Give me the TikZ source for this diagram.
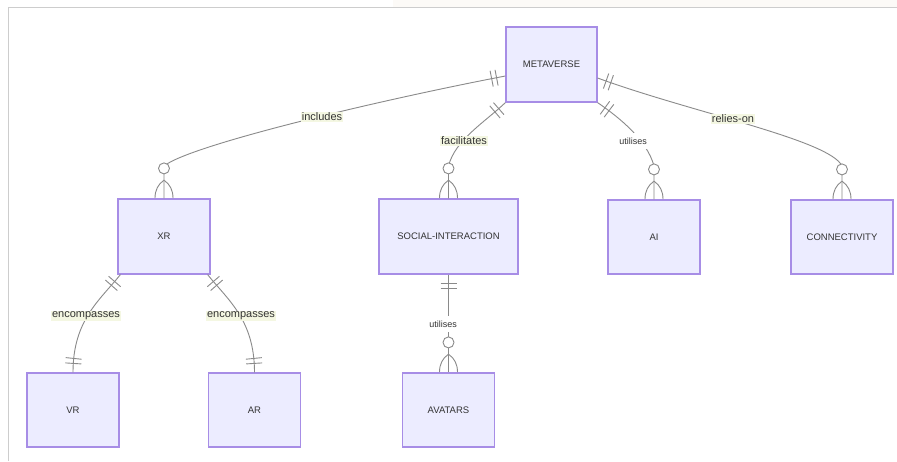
\documentclass[tikz,border=0pt]{standalone}
\usepackage{fontspec}
\setmainfont{Liberation Sans}
\usetikzlibrary{decorations.markings,calc}
\definecolor{boxfill}{HTML}{ECECFF}
\definecolor{boxline}{HTML}{A78DE6}
\definecolor{lnk}{HTML}{8A8A8A}
\definecolor{lblfill}{HTML}{F4F7E2}
\definecolor{txt}{HTML}{333333}
\definecolor{framec}{HTML}{CDCDCD}
\definecolor{topband}{HTML}{FCFAF7}
\tikzset{
  ent/.style={draw=boxline, fill=boxfill, line width=1.2pt, minimum width=92pt,
    minimum height=75pt, inner sep=0pt, text=txt, font=\fontsize{9.5}{11}\selectfont},
  rel/.style={draw=lnk, line width=0.9pt},
  lbl/.style={fill=lblfill, text=txt, inner sep=1pt, font=\fontsize{11}{13}\selectfont},
  slbl/.style={fill=white, text=txt, inner xsep=1pt, inner ysep=5pt, font=\fontsize{9}{11}\selectfont},
  onestart/.style={postaction={decorate,decoration={markings,
    mark=at position 9pt with {\draw[draw=lnk,line width=0.9pt] (0pt,-8pt) -- (0pt,8pt);},
    mark=at position 14pt with {\draw[draw=lnk,line width=0.9pt] (0pt,-8pt) -- (0pt,8pt);}}}},
  oneend/.style={postaction={decorate,decoration={markings,
    mark=at position -9pt with {\draw[draw=lnk,line width=0.9pt] (0pt,-8pt) -- (0pt,8pt);},
    mark=at position -14pt with {\draw[draw=lnk,line width=0.9pt] (0pt,-8pt) -- (0pt,8pt);}}}},
  manyend/.style={postaction={decorate,decoration={markings,
    mark=at position -30pt with {\draw[draw=lnk,line width=0.9pt,fill=white] (0pt,0pt) circle (5.5pt);},
    mark=at position -0.2pt with {\draw[draw=lnk,line width=0.9pt]
      (0pt,-9pt) .. controls (-8pt,-9pt) and (-14pt,-6pt) .. (-18pt,0pt)
      .. controls (-14pt,6pt) and (-8pt,9pt) .. (0pt,9pt);}}}}
}
\begin{document}
\begin{tikzpicture}[x=1pt,y=1pt]
\useasboundingbox (0,0) rectangle (897,-461);
\fill[white] (0,0) rectangle (897,-461);
\fill[topband] (393,0) rectangle (897,-7);
\draw[framec, line width=1.5pt] (8.5,-461) -- (8.5,-7.5) -- (897,-7.5);

% entities
\node[ent, minimum width=91pt] (meta) at (551.5,-64.5) {METAVERSE};
\node[ent] (xr) at (164,-236.5) {XR};
\node[ent, minimum width=139pt] (social) at (448.5,-236.5) {SOCIAL-INTERACTION};
\node[ent, minimum height=74pt] (ai) at (654,-237) {AI};
\node[ent, minimum width=102pt, minimum height=74pt] (conn) at (842,-237) {CONNECTIVITY};
\node[ent, minimum height=74pt] (vr) at (73,-410) {VR};
\node[ent, minimum height=74pt] (ar) at (254.5,-410) {AR};
\node[ent, minimum height=74pt] (avatars) at (448.5,-410) {AVATARS};

% relationships
\draw[rel,onestart,manyend] ($(meta.west)+(0,-11.5)$) .. controls (380,-100) and (190,-145) .. (164,-166) -- (xr.north);
\draw[rel,onestart,manyend] (meta.south west) .. controls (485,-122) and (455,-140) .. (448.5,-166) -- (social.north);
\draw[rel,onestart,manyend] (meta.south east) .. controls (620,-118) and (647,-140) .. (654,-166) -- (ai.north);
\draw[rel,onestart,manyend] ($(meta.east)+(0,-13.5)$) .. controls (690,-112) and (830,-140) .. (842,-166) -- (conn.north);
\draw[rel,onestart,oneend] ($(xr.south west)+(3,0)$) .. controls (100,-300) and (73,-320) .. (vr.north);
\draw[rel,onestart,oneend] ($(xr.south east)+(-3,0)$) .. controls (228,-300) and (254.5,-320) .. (ar.north);
\draw[rel,onestart,manyend] (social.south) -- (avatars.north);

% labels
\node[lbl] (l1) at (322,-117) {includes};
\node[lbl] (l2) at (464,-141) {facilitates};
\node[slbl] (l3) at (633,-141) {utilises};
\node[lbl] (l4) at (733,-119) {relies-on};
\node[lbl] (l5) at (86,-316) {encompasses};
\node[lbl] (l6) at (241,-316) {encompasses};
\node[slbl] (l7) at (443,-324) {utilises};
\end{tikzpicture}
\end{document}
